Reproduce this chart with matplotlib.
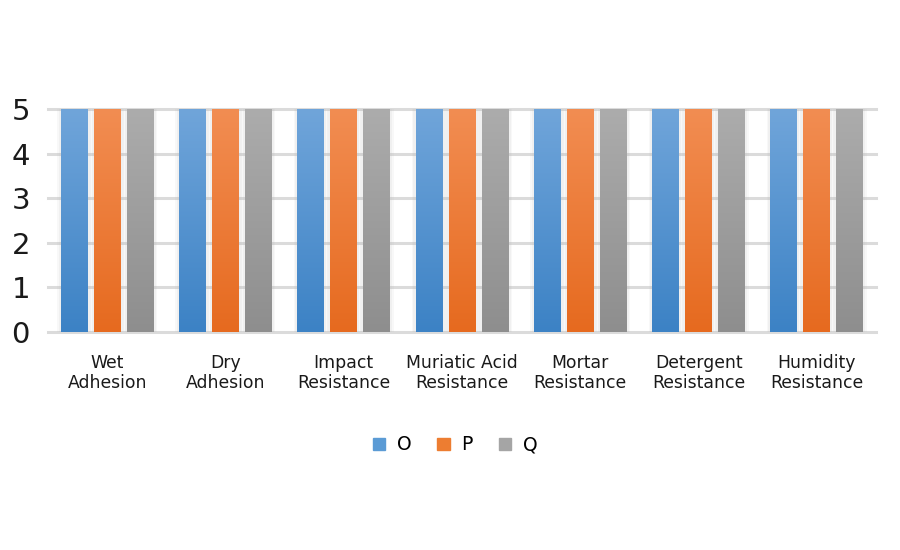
import numpy as np
import matplotlib
matplotlib.use("Agg")
import matplotlib.pyplot as plt
from matplotlib.patches import Rectangle
from matplotlib.colors import LinearSegmentedColormap

plt.rcParams['font.family'] = ['DejaVu Sans']

categories = ["Wet\nAdhesion", "Dry\nAdhesion", "Impact\nResistance", "Muriatic Acid\nResistance",
              "Mortar\nResistance", "Detergent\nResistance", "Humidity\nResistance"]
series_names = ["O", "P", "Q"]
values_O = [5, 5, 5, 5, 5, 5, 5]
values_P = [5, 5, 5, 5, 5, 5, 5]
values_Q = [5, 5, 5, 5, 5, 5, 5]
y_ticks = [0, 1, 2, 3, 4, 5]

colors_top = ["#70A5DA", "#F28D52", "#ACACAC"]
colors_bot = ["#3C82C5", "#E66A1F", "#8E8E8E"]
colors_mid = ["#5B9BD5", "#ED7D31", "#A5A5A5"]

fig = plt.figure(figsize=(9, 5.5), dpi=100)
ax = fig.add_axes([48/900, 1-332/550, 828/900, 223/550])

x = np.arange(len(categories))
bw = 0.228
step = 0.279
all_vals = [values_O, values_P, values_Q]

for gy in y_ticks:
    ax.axhline(gy, color="#DBDBDB", lw=2.2, zorder=1, clip_on=False)

for i, vals in enumerate(all_vals):
    xs = x + (i - 1) * step
    # soft shadow
    for k, a in [(0.03, 0.10), (0.018, 0.12)]:
        ax.bar(xs, vals, width=bw + 2 * k, color="#BBBBBB", alpha=a, zorder=2, linewidth=0)
    bars = ax.bar(xs, vals, width=bw, color=colors_mid[i], zorder=3, linewidth=0,
                  label=series_names[i])
    cmap = LinearSegmentedColormap.from_list("g%d" % i, [colors_bot[i], colors_top[i]])
    grad = np.linspace(0, 1, 256).reshape(-1, 1)
    for b in bars:
        bx, by = b.get_x(), b.get_y()
        w, h = b.get_width(), b.get_height()
        im = ax.imshow(grad, cmap=cmap, origin="lower", aspect="auto",
                       extent=[bx, bx + w, by, by + h], zorder=3.5)
        im.set_clip_path(b)

ax.set_xlim(-0.5, len(categories) - 0.5)
ax.set_ylim(0, 5)
ax.set_yticks(y_ticks)
ax.set_yticklabels([str(t) for t in y_ticks], fontsize=21, color="#1a1a1a")
ax.set_xticks(x)
ax.set_xticklabels(categories, fontsize=12.4, color="#1a1a1a", linespacing=1.1)
ax.tick_params(axis="both", length=0)
ax.tick_params(axis="y", pad=13)
ax.tick_params(axis="x", pad=16)
for s in ax.spines.values():
    s.set_visible(False)

handles = [Rectangle((0, 0), 1, 1, color=c) for c in colors_mid]
fig.legend(handles, series_names, loc="center", bbox_to_anchor=(455/900, 1-445/550),
           ncol=3, frameon=False, fontsize=13.5, handlelength=0.67, handleheight=0.67,
           columnspacing=1.4, handletextpad=0.6)

fig.savefig("out.png", dpi=100)
